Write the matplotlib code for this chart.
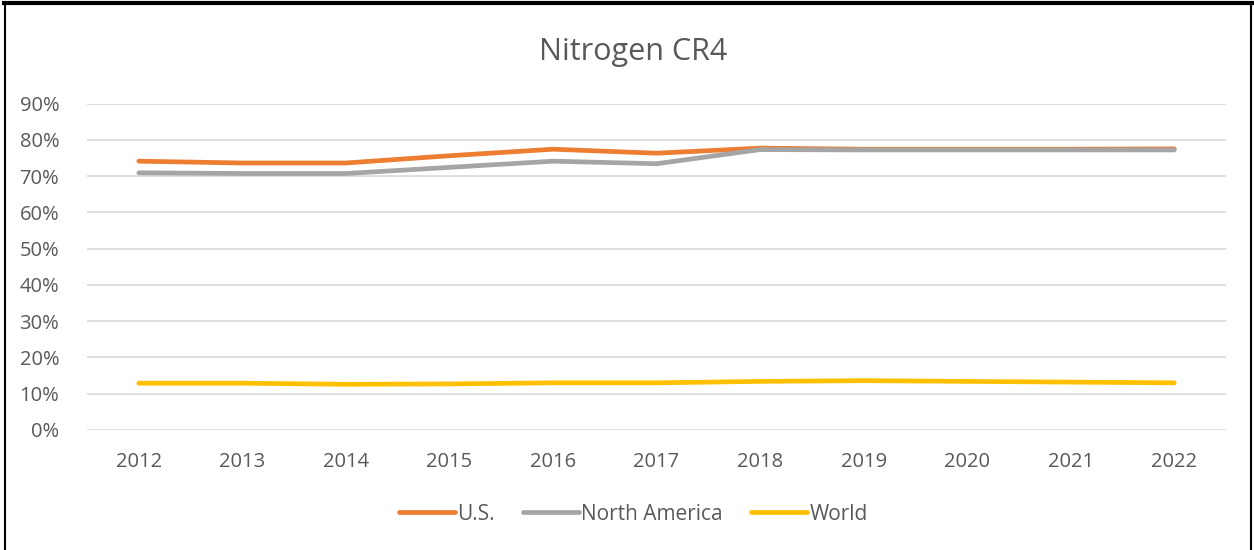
import matplotlib.pyplot as plt
from matplotlib.lines import Line2D
from matplotlib.ticker import PercentFormatter

plt.rcParams["font.family"] = ["Open Sans", "DejaVu Sans"]

years = ["2012", "2013", "2014", "2015", "2016", "2017", "2018", "2019", "2020", "2021", "2022"]
us = [74.1, 73.6, 73.6, 75.6, 77.4, 76.3, 77.7, 77.4, 77.4, 77.4, 77.5]
north_america = [70.9, 70.7, 70.7, 72.4, 74.1, 73.4, 77.3, 77.2, 77.2, 77.2, 77.2]
world = [12.9, 12.9, 12.6, 12.7, 13.0, 13.0, 13.4, 13.6, 13.4, 13.2, 13.0]

text_color = "#595959"
grid_color = "#D9D9D9"

fig = plt.figure(figsize=(12.54, 5.5), dpi=100)
ax = fig.add_axes([0.0694, 0.2182, 0.9083, 0.5936])

x = range(len(years))
ax.plot(x, us, color="#ED7D31", lw=3.4, solid_capstyle="round", label="U.S.")
ax.plot(x, north_america, color="#A5A5A5", lw=3.4, solid_capstyle="round", label="North America")
ax.plot(x, world, color="#FFC000", lw=3.4, solid_capstyle="round", label="World")

ax.set_xlim(-0.5, len(years) - 0.5)
ax.set_ylim(0, 90)
ax.set_yticks(range(0, 91, 10))
ax.yaxis.set_major_formatter(PercentFormatter(decimals=0))
ax.set_xticks(list(x))
ax.set_xticklabels(years)
ax.grid(axis="y", color=grid_color, lw=1.2)
ax.set_axisbelow(True)
for s in ax.spines.values():
    s.set_visible(False)
ax.tick_params(length=0, labelsize=14.5, colors=text_color)
ax.tick_params(axis="x", pad=16)
ax.tick_params(axis="y", pad=20)

fig.text(0.505, 0.905, "Nitrogen CR4", ha="center", va="center", fontsize=22, color=text_color)

fig.legend(loc="center", bbox_to_anchor=(0.505, 0.065), ncol=3, frameon=False,
           fontsize=15, labelcolor=text_color, handlelength=2.7, handletextpad=0.1,
           columnspacing=1.35)

# outer chart frame
fig.add_artist(Line2D([0.003, 0.999], [0.994, 0.994], color="black", lw=3, transform=fig.transFigure))
fig.add_artist(Line2D([0.004, 0.004], [0, 0.994], color="black", lw=1.5, transform=fig.transFigure))
fig.add_artist(Line2D([0.998, 0.998], [0, 0.994], color="black", lw=1.5, transform=fig.transFigure))

fig.savefig("out.png", dpi=100)
